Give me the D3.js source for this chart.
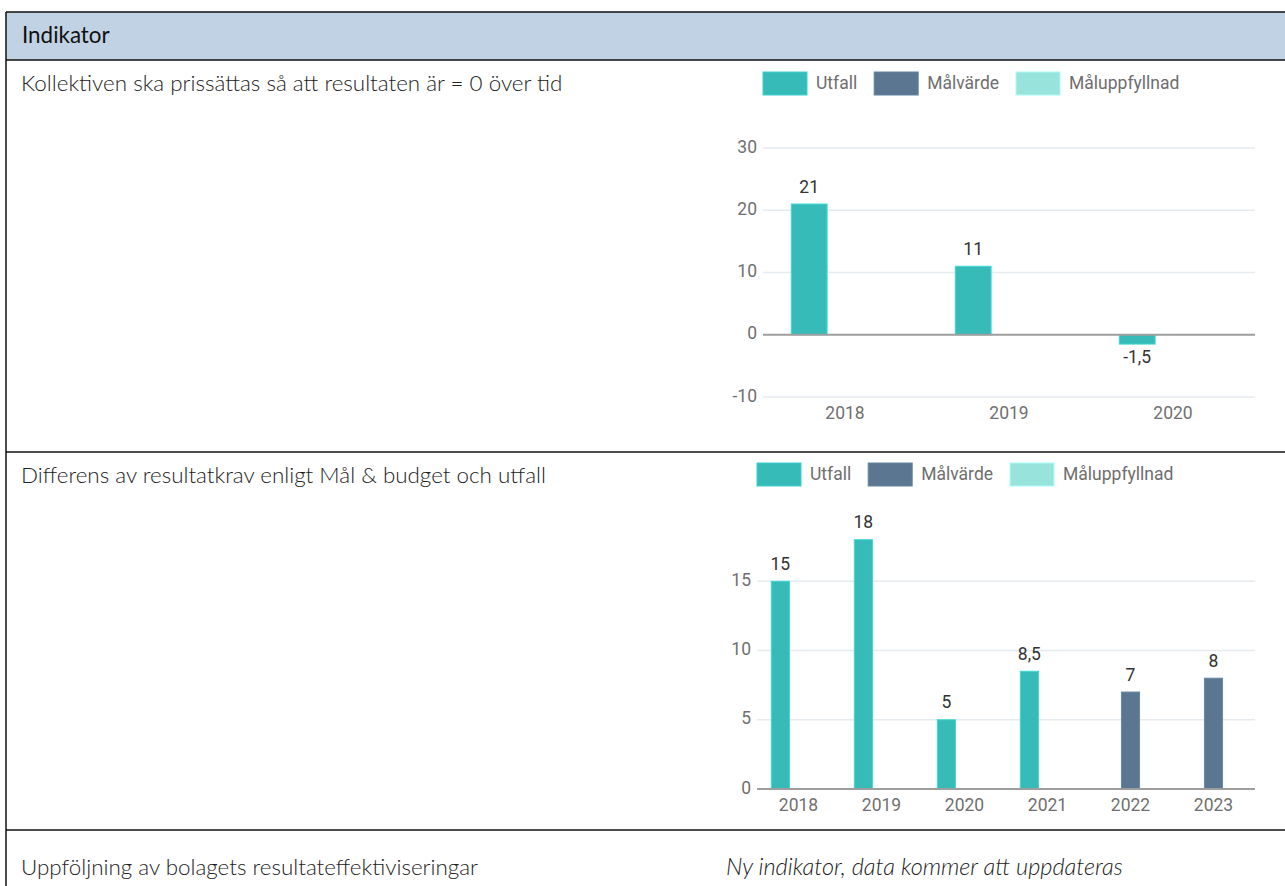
<!DOCTYPE html>
<html>
<head>
<meta charset="utf-8">
<script src="https://cdn.jsdelivr.net/npm/d3@7"></script>
<style>
  body { margin: 0; background: #fff; }
  svg { display: block; }
</style>
</head>
<body>
<svg id="page" width="1285" height="886"></svg>
<script>
// --- data ---
const seriesNames = ["Utfall", "Målvärde", "Måluppfyllnad"];
const seriesColors = ["#36bbb9", "#5a7690", "#99e3dd"];

const headerText = "Indikator";
const rowTitles = [
    "Kollektiven ska prissättas så att resultaten är = 0 över tid",
    "Differens av resultatkrav enligt Mål & budget och utfall",
    "Uppföljning av bolagets resultateffektiviseringar"
];
const noDataText = "Ny indikator, data kommer att uppdateras";

const years1 = ["2018", "2019", "2020"];
const utfall1 = [21, 11, -1.5];
const malvarde1 = [null, null, null];
const maluppfyllnad1 = [null, null, null];
const yTicks1 = [-10, 0, 10, 20, 30];

const years2 = ["2018", "2019", "2020", "2021", "2022", "2023"];
const utfall2 = [15, 18, 5, 8.5, null, null];
const malvarde2 = [null, null, null, null, 7, 8];
const maluppfyllnad2 = [null, null, null, null, null, null];
const yTicks2 = [0, 5, 10, 15];

(function() {
    const svg = d3.select("#page");

    const sv = d3.formatLocale({decimal: ",", thousands: " ", grouping: [3], currency: ["", " kr"], minus: "-"});
    const fmt = sv.format("~g");

    const tableFont = "Lato, 'Open Sans', sans-serif";
    const chartFont = "Roboto, Arial, sans-serif";

    // --- table frame ---
    const rows = [60, 452, 830];
    const textY = [85, 477, 869];

    svg.append("rect")
        .attr("x", 6).attr("y", 12)
        .attr("width", 1285).attr("height", 48)
        .attr("fill", "#c0d2e3");

    svg.append("line")
        .attr("x1", 6).attr("x2", 1285).attr("y1", 12).attr("y2", 12)
        .attr("stroke", "#111").attr("stroke-width", 1.5);
    svg.selectAll(".rowline")
        .data(rows)
        .join("line")
        .attr("class", "rowline")
        .attr("x1", 6).attr("x2", 1285)
        .attr("y1", d => d).attr("y2", d => d)
        .attr("stroke", "#111").attr("stroke-width", 1.5);
    svg.append("line")
        .attr("x1", 6).attr("x2", 6).attr("y1", 12).attr("y2", 886)
        .attr("stroke", "#111").attr("stroke-width", 1.5);

    svg.append("text")
        .attr("x", 22).attr("y", 37)
        .attr("dominant-baseline", "middle")
        .style("font-family", tableFont)
        .style("font-weight", 400)
        .style("font-size", "22.4px")
        .attr("fill", "#111")
        .text(headerText);

    svg.selectAll(".rowtitle")
        .data(rowTitles)
        .join("text")
        .attr("class", "rowtitle")
        .attr("x", 21)
        .attr("y", (d, i) => textY[i])
        .attr("dominant-baseline", "middle")
        .style("font-family", tableFont)
        .style("font-weight", 300)
        .style("font-size", "22.4px")
        .attr("fill", "#222")
        .text(d => d);

    svg.append("text")
        .attr("x", 726).attr("y", textY[2])
        .attr("dominant-baseline", "middle")
        .style("font-family", tableFont)
        .style("font-weight", 300)
        .style("font-style", "italic")
        .style("font-size", "23.5px")
        .attr("fill", "#222")
        .text(noDataText);

    // --- grouped bar chart ---
    function barChart(opts) {
        const g = svg.append("g");

        const x = d3.scaleBand()
            .domain(opts.years)
            .range([opts.left, opts.right]);

        const groupW = x.bandwidth() * 0.655;
        const xs = d3.scaleBand()
            .domain(seriesNames)
            .range([-groupW / 2, groupW / 2]);

        const y = d3.scaleLinear()
            .domain(opts.yDomain)
            .range([opts.bottom, opts.top]);

        // legend
        const legend = g.append("g");
        let lx = opts.left;
        seriesNames.forEach((name, i) => {
            legend.append("rect")
                .attr("x", lx).attr("y", opts.legendY)
                .attr("width", 44).attr("height", 23)
                .attr("fill", seriesColors[i])
                .attr("stroke", d3.color(seriesColors[i]).brighter(0.3))
                .attr("stroke-width", 1);
            const t = legend.append("text")
                .attr("x", lx + 53).attr("y", opts.legendY + 12)
                .attr("dominant-baseline", "middle")
                .style("font-family", chartFont)
                .style("font-weight", 400)
                .style("font-size", "17.5px")
                .attr("fill", "#6e6e6e")
                .text(name);
            lx += 53 + t.node().getComputedTextLength() + 17;
        });

        // gridlines
        g.append("g")
            .selectAll("line")
            .data(opts.yTicks.filter(d => d !== 0))
            .join("line")
            .attr("x1", opts.left).attr("x2", opts.right)
            .attr("y1", d => y(d)).attr("y2", d => y(d))
            .attr("stroke", "#e6ebf0").attr("stroke-width", 1.5);

        // y tick labels
        g.append("g")
            .selectAll("text")
            .data(opts.yTicks)
            .join("text")
            .attr("x", opts.left - 6)
            .attr("y", d => y(d))
            .attr("text-anchor", "end")
            .attr("dominant-baseline", "middle")
            .style("font-family", chartFont)
            .style("font-size", "17.5px")
            .attr("fill", "#707070")
            .text(d => d);

        // bars
        const cells = [];
        opts.years.forEach((yr, i) => {
            opts.values.forEach((arr, s) => {
                if (arr[i] != null) cells.push({year: yr, s: s, v: arr[i]});
            });
        });

        g.append("g")
            .selectAll("rect")
            .data(cells)
            .join("rect")
            .attr("x", d => x(d.year) + x.bandwidth() / 2 + xs(seriesNames[d.s]))
            .attr("width", xs.bandwidth())
            .attr("y", d => y(Math.max(0, d.v)))
            .attr("height", d => Math.abs(y(d.v) - y(0)))
            .attr("fill", d => seriesColors[d.s])
            .attr("stroke", d => d3.color(seriesColors[d.s]).brighter(0.4))
            .attr("stroke-width", 1);

        // zero baseline
        g.append("line")
            .attr("x1", opts.left).attr("x2", opts.right)
            .attr("y1", y(0)).attr("y2", y(0))
            .attr("stroke", "#9e9e9e").attr("stroke-width", 2);

        // value labels
        g.append("g")
            .selectAll("text")
            .data(cells)
            .join("text")
            .attr("x", d => x(d.year) + x.bandwidth() / 2 + xs(seriesNames[d.s]) + xs.bandwidth() / 2)
            .attr("y", d => d.v >= 0 ? y(d.v) - 16 : y(d.v) + 14)
            .attr("text-anchor", "middle")
            .attr("dominant-baseline", "middle")
            .style("font-family", chartFont)
            .style("font-size", "17.5px")
            .attr("fill", "#333")
            .text(d => fmt(d.v));

        // x labels
        g.append("g")
            .selectAll("text")
            .data(opts.years)
            .join("text")
            .attr("x", d => x(d) + x.bandwidth() / 2)
            .attr("y", y(opts.yDomain[0]) + 17)
            .attr("text-anchor", "middle")
            .attr("dominant-baseline", "middle")
            .style("font-family", chartFont)
            .style("font-size", "17.5px")
            .attr("fill", "#707070")
            .text(d => d);
    }

    barChart({
        years: years1,
        values: [utfall1, malvarde1, maluppfyllnad1],
        yDomain: [-10, 30],
        yTicks: yTicks1,
        left: 763, right: 1255,
        top: 148, bottom: 397,
        legendY: 72
    });

    barChart({
        years: years2,
        values: [utfall2, malvarde2, maluppfyllnad2],
        yDomain: [0, 20],
        yTicks: yTicks2,
        left: 757, right: 1255,
        top: 512, bottom: 789,
        legendY: 463
    });
})();
</script>
</body>
</html>
